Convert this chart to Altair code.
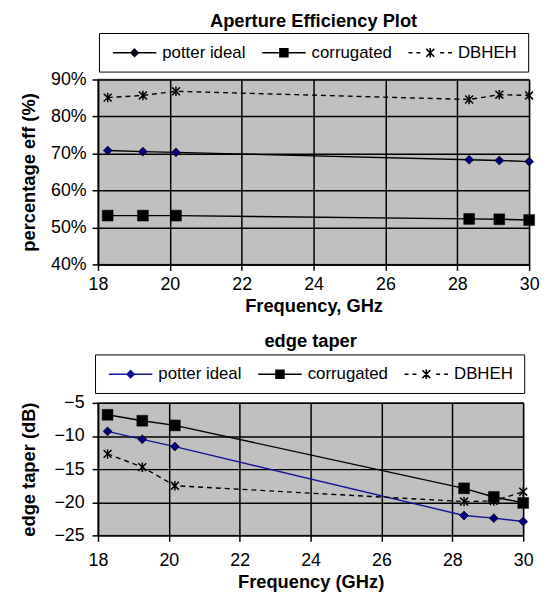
import altair as alt
import pandas as pd

# ---------------- data ----------------
FREQ = [18.27, 19.25, 20.17, 28.33, 29.17, 30.0]
SERIES = ["potter ideal", "corrugated", "DBHEH"]

EFF_POTTER = [70.8, 70.5, 70.3, 68.3, 68.1, 67.8]
EFF_CORR = [53.2, 53.2, 53.2, 52.3, 52.2, 52.0]
EFF_DBHEH = [85.1, 85.7, 86.8, 84.6, 85.9, 85.7]

TAPER_POTTER = [-9.3, -10.5, -11.6, -22.0, -22.4, -22.9]
TAPER_CORR = [-6.8, -7.7, -8.4, -17.9, -19.2, -20.1]
TAPER_DBHEH = [-12.7, -14.7, -17.5, -19.9, -19.8, -18.4]

X_TICKS = [18, 20, 22, 24, 26, 28, 30]
EFF_TICKS = [40, 50, 60, 70, 80, 90]
TAPER_TICKS = [-25, -20, -15, -10, -5]

FONT = "Liberation Sans"

STAR_PATH = "M-1,-1L1,1M-1,1L1,-1M0,-1.2L0,1.2"
LEG_POTTER = "M-0.75,0L4.75,0M2,-0.45L2.45,0L2,0.45L1.55,0Z"
LEG_CORR = "M-0.75,0L4.75,0M1.5,-0.5L2.5,-0.5L2.5,0.5L1.5,0.5Z"
LEG_DBHEH = ("M-0.75,0L-0.25,0M0.25,0L0.75,0"
             "M1.5,-0.5L2.5,0.5M1.5,0.5L2.5,-0.5M2,-0.6L2,0.6"
             "M3.25,0L3.75,0M4.25,0L4.75,0")


def long_df(p, c, d):
    rows = []
    for name, vals in zip(SERIES, [p, c, d]):
        for f, v in zip(FREQ, vals):
            rows.append({"freq": f, "value": v, "series": name})
    return pd.DataFrame(rows)


def panel(df, ydomain, yticks, ylabel_expr, ytitle, xtitle, title, width, height,
          potter_line, legend_x, legend_y, label_pad, title_pad_y, x_label_pad, x_title_pad,
          title_offset):
    x = alt.X("freq:Q", scale=alt.Scale(domain=[18, 30], nice=False, zero=False),
              axis=alt.Axis(values=X_TICKS, title=xtitle, grid=True, labelPadding=x_label_pad,
                            titlePadding=x_title_pad, labelFlush=False))
    yaxis = dict(values=yticks, title=ytitle, grid=True, labelPadding=label_pad,
                 titlePadding=title_pad_y)
    if ylabel_expr:
        yaxis["labelExpr"] = ylabel_expr
    y = alt.Y("value:Q", scale=alt.Scale(domain=ydomain, nice=False, zero=False),
              axis=alt.Axis(**yaxis))

    layers = []
    styles = {
        "potter ideal": dict(line=potter_line, dash=None),
        "corrugated": dict(line="#000000", dash=None),
        "DBHEH": dict(line="#000000", dash=[5, 4]),
    }
    for s in SERIES:
        base = alt.Chart(df).transform_filter(alt.datum.series == s)
        lk = dict(color=styles[s]["line"], strokeWidth=1.4)
        if styles[s]["dash"]:
            lk["strokeDash"] = styles[s]["dash"]
        layers.append(base.mark_line(**lk).encode(x=x, y=y))
    for s in SERIES:
        base = alt.Chart(df).transform_filter(alt.datum.series == s)
        if s == "potter ideal":
            m = base.mark_point(shape="diamond", filled=True, size=81, fill="#000080",
                                stroke="#000000", strokeWidth=0.7, opacity=1)
        elif s == "corrugated":
            m = base.mark_point(shape="square", filled=True, size=121, fill="#000000",
                                stroke="#000000", strokeWidth=0.5, opacity=1)
        else:
            m = base.mark_point(shape=STAR_PATH, filled=False, size=64, stroke="#000000",
                                strokeWidth=1.5, opacity=1)
        layers.append(m.encode(x=x, y=y))

    leg = alt.Legend(orient="none", legendX=legend_x, legendY=legend_y, direction="horizontal",
                     title=None, symbolSize=256, symbolStrokeWidth=1.6, symbolOpacity=1,
                     labelFont=FONT, labelFontSize=17, labelColor="#000000", labelOffset=35,
                     columnPadding=12, padding=11, strokeColor="#000000", fillColor="#ffffff")
    legend_layer = alt.Chart(df).mark_point(filled=True, opacity=0).encode(
        x=x, y=y,
        shape=alt.Shape("series:N", scale=alt.Scale(domain=SERIES,
                        range=[LEG_POTTER, LEG_CORR, LEG_DBHEH]), legend=leg),
        fill=alt.Fill("series:N", scale=alt.Scale(domain=SERIES,
                      range=["#000080", "#000000", "#000000"]), legend=leg),
        stroke=alt.Stroke("series:N", scale=alt.Scale(domain=SERIES,
                          range=[potter_line, "#000000", "#000000"]), legend=leg),
    )
    layers.append(legend_layer)

    return alt.layer(*layers).properties(
        width=width, height=height,
        title=alt.TitleParams(title, font=FONT, fontSize=18.5, fontWeight="bold",
                              anchor="middle", frame="group", offset=title_offset,
                              color="#000000"),
    )


top = panel(long_df(EFF_POTTER, EFF_CORR, EFF_DBHEH), [40, 90], EFF_TICKS,
            "datum.value + '%'", "percentage eff (%)", "Frequency, GHz",
            "Aperture Efficiency Plot", 436, 187, "#000000", 1, -47, 6, 12, 5, 4, 2)
bottom = panel(long_df(TAPER_POTTER, TAPER_CORR, TAPER_DBHEH), [-25, -5], TAPER_TICKS,
               None, "edge taper (dB)", "Frequency (GHz)", "edge taper", 430, 134,
               "#14149b", -3, -49, 8, 16, 10, 4, 3)

chart = alt.vconcat(top, bottom, spacing=15).resolve_scale(
    shape="independent", fill="independent", stroke="independent"
).resolve_legend(
    shape="independent", fill="independent", stroke="independent"
).properties(
    padding={"left": 10, "top": 0, "right": 0, "bottom": 0},
    background="#ffffff",
).configure_view(
    fill="#c0c0c0", stroke="#808080", strokeWidth=1.5
).configure_axis(
    domainColor="#000000", domainWidth=1.5, tickColor="#000000", tickWidth=1.5, tickSize=6,
    gridColor="#000000", gridWidth=1.5, gridOpacity=1,
    labelFont=FONT, labelFontSize=18, labelColor="#000000",
    titleFont=FONT, titleFontSize=18.5, titleFontWeight="bold", titleColor="#000000",
)

chart.save("out.html", embed_options={"renderer": "svg", "actions": False})
